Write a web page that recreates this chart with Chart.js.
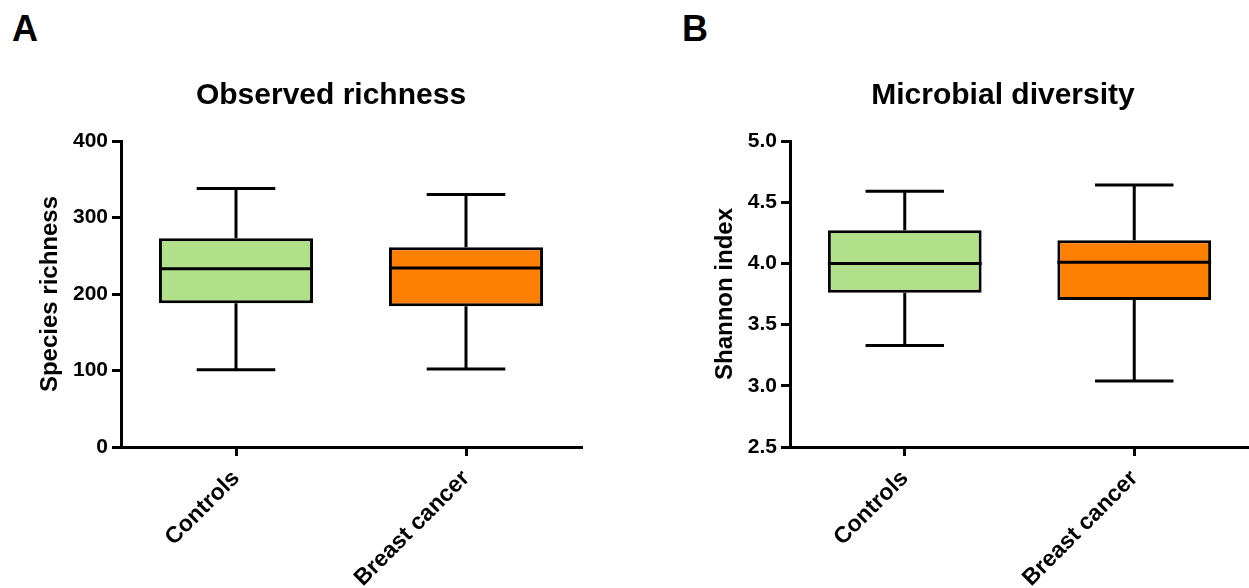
<!DOCTYPE html>
<html>
<head>
<meta charset="utf-8">
<script src="https://cdn.jsdelivr.net/npm/chart.js@4.4.0/dist/chart.umd.min.js"></script>
<style>
    html, body { margin: 0; padding: 0; background: #fff; overflow: hidden; }
    body { width: 1249px; height: 588px; position: relative; font-family: "Liberation Sans", Arial, sans-serif; }
    .painel { position: absolute; top: 0; height: 588px; }
    .letra { position: absolute; top: 11px; font-weight: bold; font-size: 36px; line-height: 1; color: #000; }
</style>
</head>
<body>
<div class="letra" style="left:12px">A</div>
<div class="letra" style="left:682px">B</div>
<div class="painel" style="left:0; width:624px"><canvas id="graficoRiqueza"></canvas></div>
<div class="painel" style="left:624px; width:625px"><canvas id="graficoShannon"></canvas></div>

<script>
// Grupos e cores das caixas
const grupos = ['Controls', 'Breast cancer'];
const coresCaixa = ['#B2DF8A', '#FF7F00'];

// A - riqueza observada
const riquezaMin = [101, 102];
const riquezaQ1 = [188, 184];
const riquezaMediana = [233, 234];
const riquezaQ3 = [273, 261];
const riquezaMax = [338, 330];
const riquezaTicks = [0, 100, 200, 300, 400];

// B - indice de Shannon
const shannonMin = [3.33, 3.04];
const shannonQ1 = [3.76, 3.70];
const shannonMediana = [4.00, 4.01];
const shannonQ3 = [4.27, 4.19];
const shannonMax = [4.59, 4.64];
const shannonTicks = [2.5, 3.0, 3.5, 4.0, 4.5, 5.0];

const fonte = "'Liberation Sans', Arial, sans-serif";

// Desenha bigodes e mediana por cima das barras flutuantes (caixas)
function criarBigodes(min, mediana, max, q1, q3) {
    return {
        id: 'bigodes',
        afterDatasetsDraw(chart) {
            const { ctx, scales: { x, y } } = chart;
            const meta = chart.getDatasetMeta(0);
            ctx.save();
            ctx.strokeStyle = '#000';
            ctx.lineWidth = 3;
            meta.data.forEach((barra, i) => {
                const cx = x.getPixelForValue(i);
                const meia = barra.width / 2;
                const capa = barra.width * 0.255;
                const yMin = y.getPixelForValue(min[i]);
                const yMax = y.getPixelForValue(max[i]);
                const yMed = y.getPixelForValue(mediana[i]);
                ctx.beginPath();
                ctx.moveTo(cx, y.getPixelForValue(q3[i]));
                ctx.lineTo(cx, yMax);
                ctx.moveTo(cx - capa, yMax);
                ctx.lineTo(cx + capa, yMax);
                ctx.moveTo(cx, y.getPixelForValue(q1[i]));
                ctx.lineTo(cx, yMin);
                ctx.moveTo(cx - capa, yMin);
                ctx.lineTo(cx + capa, yMin);
                ctx.moveTo(cx - meia, yMed);
                ctx.lineTo(cx + meia, yMed);
                ctx.stroke();
            });
            ctx.restore();
        }
    };
}

// Move o titulo na horizontal (o titulo do Chart.js centra na largura toda)
function criarDeslocaTitulo(dx) {
    return {
        id: 'deslocaTitulo',
        afterLayout(chart) {
            const t = chart.titleBlock;
            if (t) {
                t.left += dx;
                t.right += dx;
            }
        }
    };
}

function montarGrafico(id, cfg) {
    const ctx = document.getElementById(id).getContext('2d');
    return new Chart(ctx, {
        type: 'bar',
        data: {
            labels: grupos,
            datasets: [{
                data: grupos.map((g, i) => [cfg.q1[i], cfg.q3[i]]),
                backgroundColor: coresCaixa,
                borderColor: '#000',
                borderWidth: 3,
                borderSkipped: false,
                barPercentage: 0.67,
                categoryPercentage: 1.0
            }]
        },
        options: {
            responsive: true,
            maintainAspectRatio: false,
            animation: false,
            layout: { padding: { left: 0, right: cfg.direita, top: 0, bottom: 0 } },
            plugins: {
                legend: { display: false },
                tooltip: { enabled: false },
                title: {
                    display: true,
                    text: cfg.titulo,
                    color: '#000',
                    font: { family: fonte, size: 30, weight: 'bold' },
                    padding: { top: 78, bottom: 27 }
                }
            },
            scales: {
                x: {
                    grid: { offset: false, drawOnChartArea: false, color: '#000', lineWidth: 3, tickLength: 9 },
                    border: { color: '#000', width: 3 },
                    ticks: {
                        color: '#000',
                        font: { family: fonte, size: 23, weight: 'bold' },
                        minRotation: 45,
                        maxRotation: 45,
                        padding: 9,
                        labelOffset: 0
                    },
                    afterFit: s => { s.height = 141; }
                },
                y: {
                    min: cfg.ticks[0],
                    max: cfg.ticks[cfg.ticks.length - 1],
                    afterBuildTicks: s => { s.ticks = cfg.ticks.map(v => ({ value: v })); },
                    grid: { drawOnChartArea: false, color: '#000', lineWidth: 3, tickLength: 9 },
                    border: { color: '#000', width: 3 },
                    ticks: {
                        color: '#000',
                        font: { family: fonte, size: 21, weight: 'bold' },
                        padding: 4,
                        callback: v => cfg.formato(v)
                    },
                    title: {
                        display: true,
                        text: cfg.tituloY,
                        color: '#000',
                        font: { family: fonte, size: 24, weight: 'bold' },
                        padding: { top: cfg.posTituloY, bottom: 0 }
                    },
                    afterFit: s => { s.width = cfg.larguraY; }
                }
            }
        },
        plugins: [
            criarBigodes(cfg.min, cfg.mediana, cfg.max, cfg.q1, cfg.q3),
            criarDeslocaTitulo(cfg.dxTitulo)
        ]
    });
}

window.addEventListener('load', () => {
    montarGrafico('graficoRiqueza', {
        titulo: 'Observed richness',
        tituloY: 'Species richness',
        min: riquezaMin, q1: riquezaQ1, mediana: riquezaMediana, q3: riquezaQ3, max: riquezaMax,
        ticks: riquezaTicks,
        formato: v => String(v),
        larguraY: 121,
        direita: 43,
        posTituloY: 36,
        dxTitulo: 40.5
    });

    montarGrafico('graficoShannon', {
        titulo: 'Microbial diversity',
        tituloY: 'Shannon index',
        min: shannonMin, q1: shannonQ1, mediana: shannonMediana, q3: shannonQ3, max: shannonMax,
        ticks: shannonTicks,
        formato: v => v.toFixed(1),
        larguraY: 166,
        direita: 0,
        posTituloY: 87,
        dxTitulo: 66.5
    });
});
</script>
</body>
</html>
